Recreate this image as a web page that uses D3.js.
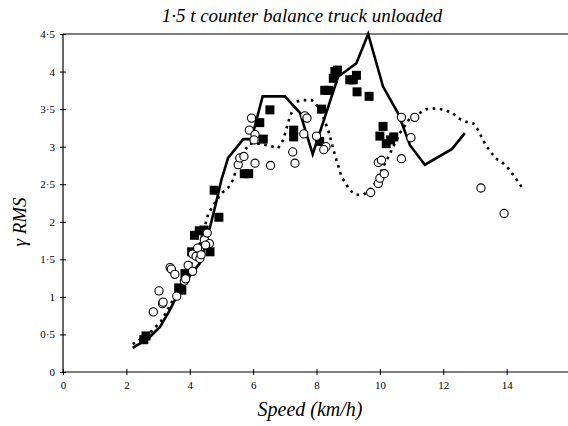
<!DOCTYPE html>
<html><head><meta charset="utf-8">
<script src="https://cdn.jsdelivr.net/npm/d3@7"></script>
<style>body{margin:0;background:#fff}svg{display:block}</style>
</head><body><svg id="c" width="568" height="426"></svg>
<script>
const title = "1·5 t counter balance truck unloaded";
const xLabel = "Speed (km/h)";
const yLabel = "γ RMS";
const xTicks = [0,2,4,6,8,10,12,14];
const yTicks = [0,0.5,1,1.5,2,2.5,3,3.5,4,4.5];
const yTickLabels = ["0","0·5","1","1·5","2","2·5","3","3·5","4","4·5"];

const solidX = [2.2,2.7,3.06,3.38,3.64,3.9,4.32,4.48,4.64,4.8,5.0,5.21,5.69,5.95,6.3,7.0,7.48,7.88,8.68,9.26,9.63,10.1,10.58,10.95,11.42,12.28,12.68];
const solidY = [0.32,0.45,0.6,0.83,1.05,1.22,1.45,1.67,1.93,2.2,2.56,2.85,3.1,3.1,3.67,3.67,3.45,2.9,3.93,4.11,4.5,3.8,3.44,3.02,2.76,2.97,3.18];

const dotX = [2.2,2.7,3.1,3.5,3.9,4.3,4.58,4.74,5.0,5.21,5.37,5.53,5.69,5.9,6.21,6.43,6.79,6.95,7.16,7.37,7.58,7.85,8.05,8.21,8.37,8.58,8.79,9.05,9.26,9.47,9.63,9.84,10.0,10.32,10.63,10.95,11.21,11.47,11.79,12.05,12.31,12.47,12.73,12.95,13.1,13.34,13.66,13.84,14.08,14.36,14.5];
const dotY = [0.37,0.5,0.68,0.98,1.3,1.68,2.1,2.22,2.38,2.45,2.56,2.8,2.93,3.04,3.04,3.02,2.98,3.09,3.4,3.6,3.62,3.62,3.53,3.4,3.22,2.89,2.6,2.42,2.36,2.36,2.4,2.51,2.64,2.91,3.18,3.38,3.44,3.5,3.51,3.49,3.44,3.38,3.33,3.31,3.22,3.02,2.84,2.8,2.7,2.53,2.45];

const sqX = [2.55,2.62,3.65,3.75,3.85,4.06,4.15,4.3,4.45,4.64,4.77,4.92,5.72,5.86,6.21,6.32,6.53,7.28,7.28,8.1,8.16,8.26,8.38,8.53,8.58,8.66,9.05,9.16,9.26,9.28,9.66,10.1,10.0,10.2,10.34,10.44];
const sqY = [0.43,0.48,1.12,1.09,1.31,1.6,1.82,1.88,1.89,1.6,2.42,2.06,2.64,2.64,3.32,3.1,3.49,3.22,3.13,3.07,3.5,3.75,3.75,3.91,4.0,4.02,3.89,3.89,3.95,3.73,3.67,3.27,3.14,3.04,3.09,3.13];

const cirX = [2.85,3.14,3.16,3.03,3.38,3.42,3.53,3.59,3.83,3.87,3.95,4.09,4.09,4.2,4.25,4.32,4.36,4.46,4.55,4.62,4.5,5.53,5.58,5.71,6.06,6.55,5.88,5.95,6.06,6.03,7.25,7.32,7.63,7.7,7.6,8.0,8.3,8.23,9.71,9.95,10.0,10.14,9.95,10.05,10.68,11.1,10.98,10.68,13.19,13.92];
const cirY = [0.8,0.91,0.93,1.08,1.39,1.37,1.3,1.01,1.21,1.24,1.42,1.34,1.57,1.54,1.65,1.51,1.56,1.76,1.85,1.71,1.69,2.76,2.85,2.87,2.78,2.75,3.22,3.38,3.16,3.09,2.93,2.78,3.41,3.38,3.17,3.14,3.0,2.96,2.39,2.51,2.58,2.64,2.79,2.82,3.39,3.39,3.12,2.84,2.45,2.11];

const FONT = "'Liberation Serif', 'Times New Roman', Times, 'DejaVu Serif', serif";
const svg = d3.select("#c");
const x = d3.scaleLinear().domain([0,16]).range([63,570]);
const y = d3.scaleLinear().domain([0,4.5]).range([372,34]);

// title
svg.append("text").attr("x",302).attr("y",22).attr("text-anchor","middle")
  .style("font-family",FONT).style("font-size","19px").style("font-style","italic").text(title);

// axes
const gx = svg.append("g").attr("transform","translate(0,372)")
  .call(d3.axisBottom(x).tickValues(xTicks).tickSize(3).tickPadding(6).tickFormat(d3.format("d")));
gx.selectAll(".tick line").attr("y1",-3).attr("y2",3);
const gy = svg.append("g").attr("transform","translate(63,0)")
  .call(d3.axisLeft(y).tickValues(yTicks).tickSize(3).tickPadding(5).tickFormat((d,i)=>yTickLabels[i]));
gy.selectAll(".tick line").attr("x1",3).attr("x2",-3);
[gx,gy].forEach(g=>{
  g.attr("font-family",null);
  g.select(".domain").attr("stroke","#000").attr("stroke-width",1.2);
  g.selectAll(".tick line").attr("stroke","#000").attr("stroke-width",1);
  g.selectAll("text").style("font-size","11px").style("font-family",FONT).attr("fill","#000");
});
gx.select(".domain").attr("d","M63,0H570");
gy.select(".domain").attr("d","M0,372V34");
svg.append("line").attr("x1",63).attr("x2",570).attr("y1",y(4.5)).attr("y2",y(4.5))
  .attr("stroke","#000").attr("stroke-width",1.2);

// axis labels
svg.append("text").attr("x",310).attr("y",416).attr("text-anchor","middle")
  .style("font-family",FONT).style("font-size","20px").style("font-style","italic").text(xLabel);
svg.append("text").attr("transform","translate(26,222) rotate(-90)").attr("text-anchor","middle")
  .style("font-family",FONT).style("font-size","19px").style("font-style","italic").text(yLabel);

const line = d3.line().x(d=>x(d[0])).y(d=>y(d[1]));

// dotted
svg.append("path").datum(dotX.map((v,i)=>[v,dotY[i]])).attr("d",line)
  .attr("fill","none").attr("stroke","#000").attr("stroke-width",2.6)
  .attr("stroke-dasharray","2.6,4.6");

// solid
svg.append("path").datum(solidX.map((v,i)=>[v,solidY[i]])).attr("d",line)
  .attr("fill","none").attr("stroke","#000").attr("stroke-width",2.6).attr("stroke-linejoin","miter");

// squares
const s = 9;
svg.append("g").selectAll("rect").data(sqX.map((v,i)=>[v,sqY[i]])).join("rect")
  .attr("x",d=>x(d[0])-s/2).attr("y",d=>y(d[1])-s/2).attr("width",s).attr("height",s).attr("fill","#000");

// circles
svg.append("g").selectAll("circle").data(cirX.map((v,i)=>[v,cirY[i]])).join("circle")
  .attr("cx",d=>x(d[0])).attr("cy",d=>y(d[1])).attr("r",4.1)
  .attr("fill","#fff").attr("stroke","#000").attr("stroke-width",1.1);
</script></body></html>
